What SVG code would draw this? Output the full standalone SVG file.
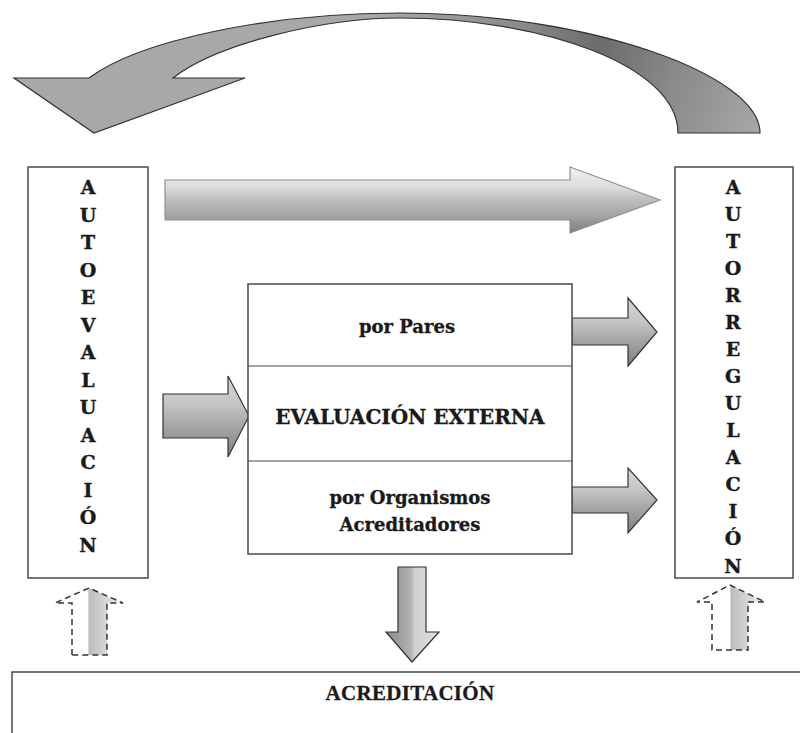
<svg xmlns="http://www.w3.org/2000/svg" width="800" height="733" viewBox="0 0 800 733">
  <defs>
    <linearGradient id="gCurve" gradientUnits="userSpaceOnUse" x1="380" y1="0" x2="760" y2="140">
      <stop offset="0" stop-color="#a8a8a8"/>
      <stop offset="0.35" stop-color="#8a8a8a"/>
      <stop offset="0.55" stop-color="#6c6c6c"/>
      <stop offset="0.75" stop-color="#8a8a8a"/>
      <stop offset="1" stop-color="#a8a8a8"/>
    </linearGradient>
    <linearGradient id="gLong" gradientUnits="userSpaceOnUse" x1="0" y1="167" x2="0" y2="233">
      <stop offset="0" stop-color="#f0f0f0"/>
      <stop offset="0.3" stop-color="#dedede"/>
      <stop offset="0.5" stop-color="#bdbdbd"/>
      <stop offset="0.75" stop-color="#a3a3a3"/>
      <stop offset="1" stop-color="#7e7e7e"/>
    </linearGradient>
    <linearGradient id="gSmall" x1="0" y1="0" x2="0" y2="1">
      <stop offset="0" stop-color="#d8d8d8"/>
      <stop offset="0.35" stop-color="#c4c4c4"/>
      <stop offset="0.6" stop-color="#a8a8a8"/>
      <stop offset="1" stop-color="#808080"/>
    </linearGradient>
    <linearGradient id="gDown" x1="0" y1="0" x2="1" y2="0">
      <stop offset="0" stop-color="#8a8a8a"/>
      <stop offset="0.45" stop-color="#b0b0b0"/>
      <stop offset="0.55" stop-color="#d0d0d0"/>
      <stop offset="1" stop-color="#e0e0e0"/>
    </linearGradient>
    <linearGradient id="gDash" x1="0" y1="0" x2="1" y2="0">
      <stop offset="0" stop-color="#ffffff"/>
      <stop offset="0.48" stop-color="#ffffff"/>
      <stop offset="0.5" stop-color="#bcbcbc"/>
      <stop offset="1" stop-color="#f0f0f0"/>
    </linearGradient>
  </defs>
  <style>
    .box { fill: #ffffff; stroke: #4a4a4a; stroke-width: 1.5; }
    .sep { stroke: #4a4a4a; stroke-width: 1.2; }
    .vert { font-family: "DejaVu Serif", "Liberation Serif", serif; font-weight: bold; font-size: 19px; fill: #1a1a1a; stroke: #1a1a1a; stroke-width: 0.4; text-anchor: middle; }
    .lbl { font-family: "DejaVu Serif", "Liberation Serif", serif; font-weight: bold; font-size: 18px; fill: #1a1a1a; stroke: #1a1a1a; stroke-width: 0.3; text-anchor: middle; }
    .big { font-family: "DejaVu Serif", "Liberation Serif", serif; font-weight: bold; font-size: 20px; fill: #1a1a1a; stroke: #1a1a1a; stroke-width: 0.3; text-anchor: middle; }
    .acr { font-family: "Liberation Serif", serif; font-weight: bold; font-size: 21px; letter-spacing: 0.3px; fill: #1a1a1a; stroke: #1a1a1a; stroke-width: 0.3; text-anchor: middle; }
    .arr { stroke: #333333; stroke-width: 1.2; stroke-linejoin: miter; }
    .dash { fill: url(#gDash); stroke: #333333; stroke-width: 1.5; stroke-dasharray: 6 4; }
  </style>

  <rect width="800" height="733" fill="#ffffff"/>

  <!-- connectors -->
  <g id="connectors">
    <!-- return arc from Autorregulación back to Autoevaluación -->
    <path class="arr" fill="url(#gCurve)" d="M 89 78 L 14 78 L 94 133 L 245 78 L 173 78 C 215 45, 320 18, 400 18 C 540 18, 678 65, 678 133 L 760 133 C 760 75, 590 13, 400 13 C 270 13, 140 40, 89 78 Z"/>
    <!-- long arrow Autoevaluación to Autorregulación -->
    <path fill="url(#gLong)" stroke="#8f8f8f" stroke-width="1.2" d="M 165 180 L 570 180 L 570 167 L 660 200 L 570 233 L 570 220 L 165 220 Z"/>
    <!-- into Evaluación externa -->
    <path class="arr" fill="url(#gSmall)" d="M 163 394 L 228 394 L 228 376 L 249 416 L 228 457 L 228 438 L 163 438 Z"/>
    <!-- por Pares to Autorregulación -->
    <path class="arr" fill="url(#gSmall)" d="M 572 318 L 628 318 L 628 298 L 657 332 L 628 366 L 628 345 L 572 345 Z"/>
    <!-- por Organismos to Autorregulación -->
    <path class="arr" fill="url(#gSmall)" d="M 572 487 L 628 487 L 628 468 L 657 500 L 628 533 L 628 513 L 572 513 Z"/>
    <!-- down to Acreditación -->
    <path class="arr" fill="url(#gDown)" d="M 398 567 L 426 567 L 426 632 L 439 632 L 412 662 L 386 632 L 398 632 Z"/>
    <!-- dashed feedback arrows from Acreditación -->
    <path class="dash" d="M 72 655 L 72 603 L 55 603 L 89 588 L 123 603 L 107 603 L 107 655 Z"/>
    <path class="dash" d="M 712 650 L 712 602 L 697 602 L 730 585 L 765 602 L 748 602 L 748 650 Z"/>
  </g>

  <!-- Autoevaluación -->
  <g id="autoevaluacion">
    <rect class="box" x="28" y="167" width="120" height="411" stroke="#6a6a6a"/>
    <text class="vert" x="88" y="194">A</text>
    <text class="vert" x="88" y="221.5">U</text>
    <text class="vert" x="88" y="249">T</text>
    <text class="vert" x="88" y="276.5">O</text>
    <text class="vert" x="88" y="304">E</text>
    <text class="vert" x="88" y="331.5">V</text>
    <text class="vert" x="88" y="359">A</text>
    <text class="vert" x="88" y="386.5">L</text>
    <text class="vert" x="88" y="414">U</text>
    <text class="vert" x="88" y="441.5">A</text>
    <text class="vert" x="88" y="469">C</text>
    <text class="vert" x="88" y="496.5">I</text>
    <text class="vert" x="88" y="524">Ó</text>
    <text class="vert" x="88" y="551.5">N</text>
  </g>

  <!-- Autorregulación -->
  <g id="autorregulacion">
    <rect class="box" x="675" y="167" width="118" height="411" stroke="#333333"/>
    <text class="vert" x="733" y="194">A</text>
    <text class="vert" x="733" y="221">U</text>
    <text class="vert" x="733" y="248">T</text>
    <text class="vert" x="733" y="275">O</text>
    <text class="vert" x="733" y="302">R</text>
    <text class="vert" x="733" y="329">R</text>
    <text class="vert" x="733" y="356">E</text>
    <text class="vert" x="733" y="383">G</text>
    <text class="vert" x="733" y="410">U</text>
    <text class="vert" x="733" y="437">L</text>
    <text class="vert" x="733" y="464">A</text>
    <text class="vert" x="733" y="491">C</text>
    <text class="vert" x="733" y="518">I</text>
    <text class="vert" x="733" y="545">Ó</text>
    <text class="vert" x="733" y="572.5">N</text>
  </g>

  <!-- Evaluación externa -->
  <g id="evaluacion-externa">
    <rect class="box" x="248" y="284" width="324" height="270"/>
    <line class="sep" x1="248" y1="366" x2="572" y2="366"/>
    <line class="sep" x1="248" y1="461" x2="572" y2="461"/>
    <text class="lbl" x="407" y="333">por Pares</text>
    <text class="big" x="410" y="424">EVALUACIÓN EXTERNA</text>
    <text class="lbl" x="410" y="504">por Organismos</text>
    <text class="lbl" x="410" y="531">Acreditadores</text>
  </g>

  <!-- Acreditación -->
  <g id="acreditacion">
    <rect class="box" x="12" y="672" width="800" height="80"/>
    <text class="acr" x="410" y="700">ACREDITACIÓN</text>
  </g>
</svg>
